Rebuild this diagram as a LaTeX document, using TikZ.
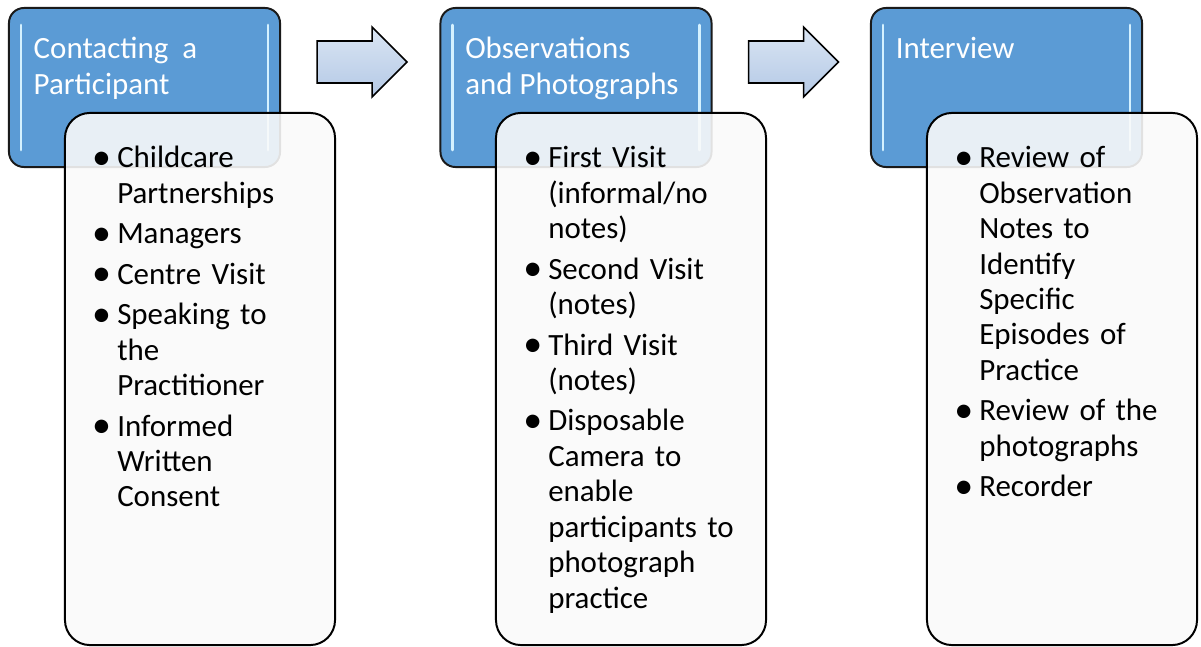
\documentclass[tikz,border=0pt]{standalone}
\usepackage{fontspec}
\setmainfont{Carlito}
\usepackage{tikz}
\usetikzlibrary{calc}
\definecolor{stageblue}{HTML}{5B9BD5}
\definecolor{edgedark}{HTML}{1A1A1A}
\definecolor{glint}{HTML}{D4F1FF}
\definecolor{paper}{HTML}{FAFAFA}
\definecolor{arrowtop}{HTML}{DAE5F3}
\definecolor{arrowbot}{HTML}{B4C9E6}
\newcommand{\bitem}[1]{\par\hangindent=0.625cm\hangafter=1\noindent\makebox[0.625cm][l]{\raisebox{-1.2pt}{\fontsize{27}{0}\selectfont\textbullet}}\strut#1}

\begin{document}
\begin{tikzpicture}[x=0.025cm, y=-0.025cm,
        bluebox/.style={draw=edgedark, fill=stageblue, rounded corners=0.375cm, line width=1.4pt, minimum width=6.775cm, minimum height=3.975cm, inner sep=0, outer sep=0},
        listbox/.style={draw=black, fill=paper, fill opacity=0.89, rounded corners=0.625cm, line width=1.4pt, minimum width=6.75cm, minimum height=13.3cm, inner sep=0, outer sep=0},
        titletext/.style={anchor=north west, inner sep=0, text=white, align=left, font=\fontsize{22}{26}\selectfont},
        itemtext/.style={anchor=north west, inner sep=0, text width=5.75cm, align=left, font=\fontsize{22}{25.2}\selectfont\setlength{\parskip}{3.6pt}},
        blockarrow/.style={draw=black, line width=1.1pt, top color=arrowtop, bottom color=arrowbot},
        glintline/.style={draw=glint, line width=2pt, line cap=round}]

        \fill[white] (0,0) rectangle (1201,646);
        \useasboundingbox (0,0) rectangle (1201,646);

        \node[bluebox] (blueA) at (144.5,87.5) {};
        \node[bluebox] (blueB) at (576,87.5) {};
        \node[bluebox] (blueC) at (1006.5,87.5) {};

        \foreach \b in {blueA,blueB,blueC} {
          \draw[glintline] ($(\b.north west)+(12,17)$) -- ($(\b.south west)+(12,-17)$);
          \draw[glintline] ($(\b.north east)+(-12,17)$) -- ($(\b.south east)+(-12,-17)$);
        }

        \node[titletext] (titleA) at ($(blueA.north west)+(24.5,28.5)$) {Contacting\ \ a\\Participant};
        \node[titletext] (titleB) at ($(blueB.north west)+(24.5,28.5)$) {Observations\\and Photographs};
        \node[titletext] (titleC) at ($(blueC.north west)+(24.5,28.5)$) {Interview};

        \foreach \a in {blueA,blueB}
          \draw[blockarrow] ($(\a.east)+(37,-46.5)$) -- ++(55,0) -- ++(0,-14) -- ++(35,35) -- ++(-35,35) -- ++(0,-14) -- ++(-55,0) -- cycle;

        \node[listbox] (listA) at (200,379) {};
        \node[listbox] (listB) at (631,379) {};
        \node[listbox] (listC) at (1062,379) {};

        \node[itemtext] (itemsA) at ($(listA.north west)+(27,14)$) {\bitem{Childcare\newline Partnerships}\bitem{Managers}\bitem{Centre Visit}\bitem{Speaking to\newline the\newline Practitioner}\bitem{Informed\newline Written\newline Consent}\par};
        \node[itemtext] (itemsB) at ($(listB.north west)+(27,14)$) {\bitem{First Visit\newline (informal/no\newline notes)}\bitem{Second Visit\newline (notes)}\bitem{Third Visit\newline (notes)}\bitem{Disposable\newline Camera to\newline enable\newline participants to\newline photograph\newline practice}\par};
        \node[itemtext] (itemsC) at ($(listC.north west)+(27,14)$) {\bitem{Review of\newline Observation\newline Notes to\newline Identify\newline Specific\newline Episodes of\newline Practice}\bitem{Review of the\newline photographs}\bitem{Recorder}\par};
      \end{tikzpicture}
\end{document}
